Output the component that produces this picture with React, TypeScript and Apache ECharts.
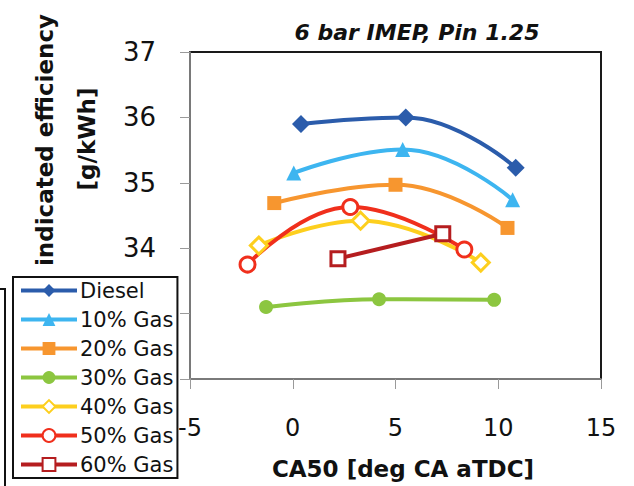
import React, { useEffect, useRef } from "react";
import * as echarts from "echarts";

const seriesNames = ["Diesel", "10% Gas", "20% Gas", "30% Gas", "40% Gas", "50% Gas", "60% Gas"];

const dieselX = [0.4, 5.5, 10.85];
const dieselY = [35.9, 36.0, 35.23];
const gas10X = [0.05, 5.35, 10.7];
const gas10Y = [35.15, 35.51, 34.74];
const gas20X = [-0.9, 5.0, 10.45];
const gas20Y = [34.69, 34.97, 34.31];
const gas30X = [-1.3, 4.2, 9.8];
const gas30Y = [33.1, 33.22, 33.21];
const gas40X = [-1.65, 3.3, 9.15];
const gas40Y = [34.04, 34.42, 33.78];
const gas50X = [-2.2, 2.8, 8.35];
const gas50Y = [33.75, 34.63, 33.98];
const gas60X = [2.2, 7.3];
const gas60Y = [33.84, 34.22];

const xTicks = [-5, 0, 5, 10, 15];
const yTicks = [32, 33, 34, 35, 36, 37];
// tick labels not hidden behind the legend in the reference
const yVisibleLabels = [34, 35, 36, 37];

const FONT = "DejaVu Sans";

function pairs(xs: number[], ys: number[]) {
  return xs.map((x, i) => [x, ys[i]]);
}

export default function App() {
  const ref = useRef<HTMLDivElement>(null);
  useEffect(() => {
    if (!ref.current) return;
    const chart = echarts.init(ref.current, null, { renderer: "svg" });

    const mk = (
      name: string,
      xs: number[],
      ys: number[],
      color: string,
      symbol: string,
      size: number,
      hollow: boolean,
      smooth: boolean | number
    ) => ({
      name,
      type: "line",
      data: pairs(xs, ys),
      smooth,
      symbol,
      symbolSize: size,
      showSymbol: true,
      lineStyle: { color, width: 4 },
      itemStyle: hollow
        ? { color: "#ffffff", borderColor: color, borderWidth: 3 }
        : { color, borderColor: color, borderWidth: 0 },
      emphasis: { disabled: true },
      z: 3,
    });

    chart.setOption({
      animation: false,
      textStyle: { fontFamily: FONT },
      grid: {
        left: 190,
        top: 52,
        width: 411,
        height: 327,
        show: true,
        borderColor: "#1a1a1a",
        borderWidth: 2,
        backgroundColor: "transparent",
      },
      xAxis: {
        type: "value",
        min: xTicks[0],
        max: xTicks[xTicks.length - 1],
        interval: 5,
        axisLine: { show: true, onZero: false, lineStyle: { color: "#9a9a9a", width: 1.5 } },
        axisTick: { show: true, length: 10, lineStyle: { color: "#9a9a9a" } },
        splitLine: { show: false },
        axisLabel: { fontSize: 24, color: "#111", margin: 37, fontFamily: FONT },
      },
      yAxis: {
        type: "value",
        min: yTicks[0],
        max: yTicks[yTicks.length - 1],
        interval: 1,
        axisLine: { show: true, onZero: false, lineStyle: { color: "#9a9a9a", width: 1.5 } },
        axisTick: { show: true, length: 10, lineStyle: { color: "#9a9a9a" } },
        splitLine: { show: false },
        axisLabel: {
          fontSize: 26,
          color: "#111",
          margin: 34,
          fontFamily: FONT,
          formatter: (v: number) => (yVisibleLabels.includes(v) ? String(v) : ""),
        },
      },
      legend: {
        orient: "vertical",
        left: 13,
        top: 277,
        padding: [3, 4, 3, 6],
        itemWidth: 56,
        itemHeight: 16,
        itemGap: 8,
        borderColor: "#111",
        borderWidth: 2,
        backgroundColor: "#ffffff",
        lineStyle: { width: 4 },
        textStyle: { fontSize: 21, lineHeight: 20, color: "#111", fontFamily: FONT, padding: [0, 0, 0, -2] },
        data: seriesNames,
        z: 10,
      },
      series: [
        mk(seriesNames[0], dieselX, dieselY, "#2b5cab", "diamond", 18, false, 0.45),
        mk(seriesNames[1], gas10X, gas10Y, "#3db5f0", "triangle", 15, false, 0.45),
        mk(seriesNames[2], gas20X, gas20Y, "#f7962f", "rect", 14, false, 0.45),
        mk(seriesNames[3], gas30X, gas30Y, "#8cc640", "circle", 14, false, 0.45),
        mk(seriesNames[4], gas40X, gas40Y, "#fdcf1e", "diamond", 17, true, 0.45),
        mk(seriesNames[5], gas50X, gas50Y, "#f02f1c", "circle", 15, true, 0.45),
        mk(seriesNames[6], gas60X, gas60Y, "#b51d1f", "rect", 14, true, false),
      ],
      graphic: [
        {
          type: "text",
          x: 417,
          y: 32,
          style: {
            text: "6 bar IMEP, Pin 1.25",
            font: `italic bold 22px "${FONT}"`,
            fill: "#111",
            align: "center",
            verticalAlign: "middle",
          },
        },
        {
          type: "text",
          x: 403,
          y: 469,
          style: {
            text: "CA50 [deg CA aTDC]",
            font: `bold 23px "${FONT}"`,
            fill: "#111",
            align: "center",
            verticalAlign: "middle",
          },
        },
        {
          type: "text",
          x: 45,
          y: 140,
          rotation: Math.PI / 2,
          style: {
            text: "indicated efficiency",
            font: `bold 23px "${FONT}"`,
            fill: "#111",
            align: "center",
            verticalAlign: "middle",
          },
        },
        {
          type: "text",
          x: 87,
          y: 139,
          rotation: Math.PI / 2,
          style: {
            text: "[g/kWh]",
            font: `bold 23px "${FONT}"`,
            fill: "#111",
            align: "center",
            verticalAlign: "middle",
          },
        },
        {
          type: "polyline",
          shape: { points: [[0, 289], [5, 289], [5, 486]] },
          style: { stroke: "#111", lineWidth: 2, fill: null },
        },
      ],
    });
    return () => chart.dispose();
  }, []);

  return (
    <div
      ref={ref}
      style={{ position: "fixed", left: 0, top: 0, width: 634, height: 486, background: "#fff" }}
    />
  );
}
